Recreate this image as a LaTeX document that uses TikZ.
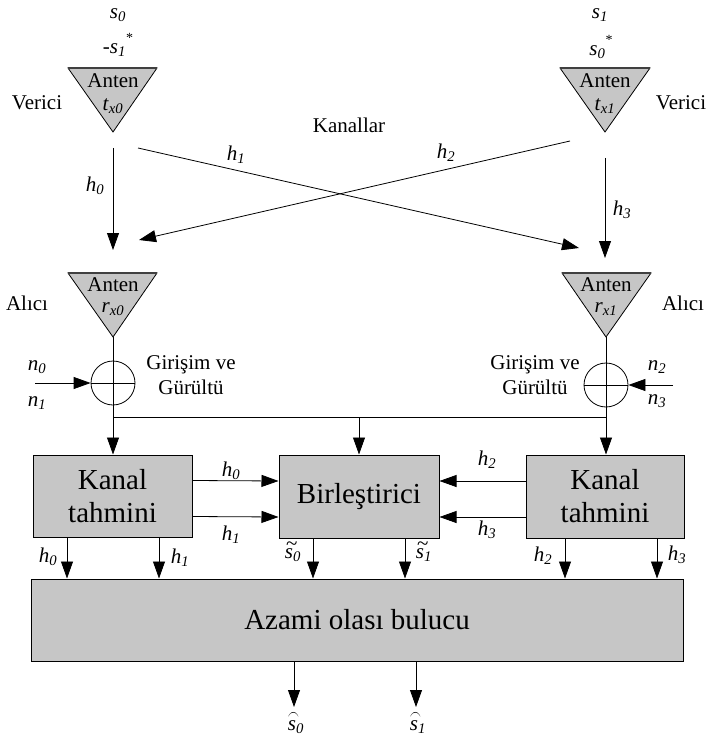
\documentclass[tikz,border=0pt]{standalone}
\usepackage{fontspec}
\setmainfont{Liberation Serif}
\usetikzlibrary{arrows.meta,calc}
\definecolor{boxgray}{RGB}{198,198,198}
% italic symbol with italic subscript
\newcommand{\vsub}[2]{\textit{#1}\textsubscript{\textit{#2}}}
% conjugate star
\newcommand{\cstar}{\raisebox{0.55em}{\fontsize{14}{14}\selectfont *}}
% s with a tilde
\newcommand{\stil}[1]{\textit{\makebox[0pt][l]{\raisebox{0.36em}[0pt][0pt]{\kern0.04em\textasciitilde}}s}\textsubscript{\textit{#1}}}
% s with an arc above
\newcommand{\sarc}[1]{\textit{\makebox[0pt][l]{\raisebox{0.5em}[0pt][0pt]{\scalebox{0.55}[0.9]{$\frown$}}}s}\textsubscript{\textit{#1}}}

\tikzset{
  arr/.style={-{Triangle[length=17pt,width=12pt]}, line width=0.8pt},
  wire/.style={line width=0.8pt},
  lab/.style={font=\fontsize{21}{25}\selectfont, inner sep=0pt},
  antfill/.style={fill=boxgray, draw=black, line width=0.8pt},
  blk/.style={draw, fill=boxgray, line width=1pt, align=center,
    font=\fontsize{29}{33}\selectfont, inner sep=0pt},
  summer/.style={circle, draw, line width=0.8pt, minimum size=44pt, inner sep=0pt},
}

\begin{document}
\begin{tikzpicture}[x=1pt,y=-1pt]
\useasboundingbox (0,0) rectangle (707,738);

% ---------- transmit antennas ----------
\filldraw[antfill] (68,68) -- (157,68) -- (113,132) -- cycle;
\filldraw[antfill] (560,68) -- (650,68) -- (605,132) -- cycle;
\draw[line width=1.4pt, black!75] (68,68) -- (157,68);
\draw[line width=1.4pt, black!75] (560,68) -- (650,68);
\node[lab] (tx0a) at (113,81) {Anten};
\node[lab] (tx0b) at (113,106) {\vsub{t}{x0}};
\node[lab] (tx1a) at (605,81) {Anten};
\node[lab] (tx1b) at (605,106) {\vsub{t}{x1}};

\node[lab] (s0top) at (118,15) {\vsub{s}{0}};
\node[lab] (s1conj) at (118,45) {-\vsub{s}{1}\cstar};
\node[lab] (s1top) at (600,15) {\vsub{s}{1}};
\node[lab] (s0conj) at (601,47) {\vsub{s}{0}\cstar};

\node[lab] (vl) at (37,103) {Verici};
\node[lab] (vr) at (681,103) {Verici};
\node[lab] (kanallar) at (349,125) {Kanallar};

% ---------- channel paths ----------
\coordinate (c0s) at (113,148);  \coordinate (c0e) at (113,250);
\coordinate (c1s) at (138,148);  \coordinate (c1e) at (579,248);
\coordinate (c2s) at (570,141);  \coordinate (c2e) at (139,240);
\coordinate (c3s) at (605,158);  \coordinate (c3e) at (605,258);
\draw[arr] (c0s) -- (c0e);
\draw[arr] (c1s) -- (c1e);
\draw[arr] (c2s) -- (c2e);
\draw[arr] (c3s) -- (c3e);
\node[lab] (h0) at (95,186) {\vsub{h}{0}};
\node[lab] (h1) at (236,155) {\vsub{h}{1}};
\node[lab] (h2) at (446,153) {\vsub{h}{2}};
\node[lab] (h3) at (622,210) {\vsub{h}{3}};

% ---------- receive antennas ----------
\filldraw[antfill] (68,273) -- (157,273) -- (113,337) -- cycle;
\filldraw[antfill] (562,273) -- (651,273) -- (606,337) -- cycle;
\draw[line width=1.4pt, black!75] (68,273) -- (157,273);
\draw[line width=1.4pt, black!75] (562,273) -- (651,273);
\coordinate (rx0) at (113,337);
\coordinate (rx1) at (606,337);
\node[lab] (rx0a) at (113,285) {Anten};
\node[lab] (rx0b) at (113,309) {\vsub{r}{x0}};
\node[lab] (rx1a) at (606,285) {Anten};
\node[lab] (rx1b) at (606,309) {\vsub{r}{x1}};
\node[lab] (al) at (27,303) {Alıcı};
\node[lab] (ar) at (683,303) {Alıcı};

% ---------- noise summers ----------
\node[summer] (sum0) at (113,383) {};
\node[summer] (sum1) at (606,385) {};
\draw[wire] (sum0.west) -- (sum0.east);
\draw[wire] (sum1.west) -- (sum1.east);
\coordinate (n0in) at (35,383);
\coordinate (n2in) at (673,385);
\draw[arr] (n0in) -- (sum0.west);
\draw[arr] (n2in) -- (sum1.east);
\node[lab] (n0) at (37,367) {\vsub{n}{0}};
\node[lab] (n1) at (37,403) {\vsub{n}{1}};
\node[lab] (n2) at (657,367) {\vsub{n}{2}};
\node[lab] (n3) at (657,401) {\vsub{n}{3}};
\node[lab, align=center] (gg0) at (191,375) {Girişim ve\\Gürültü};
\node[lab, align=center] (gg1) at (535,375) {Girişim ve\\Gürültü};

% ---------- processing blocks ----------
\node[blk, minimum width=159pt, minimum height=82pt] (kt0) at (112.5,496) {Kanal\\tahmini};
\node[blk, minimum width=160pt, minimum height=83pt] (bir) at (359,496.5) {Birleştirici};
\node[blk, minimum width=158pt, minimum height=83pt] (kt1) at (605,496.5) {Kanal\\tahmini};
\node[blk, minimum width=652pt, minimum height=82pt] (ml) at (357,620) {Azami olası bulucu};

% antenna feed through summers onto the bus
\coordinate (b0) at (113,417);
\coordinate (b1) at (606,417);
\coordinate (bm) at (359,417);
\draw[wire] (rx0) -- (b0);
\draw[wire] (rx1) -- (b1);
\draw[wire] (b0) -- (b1);
\draw[arr] (b0) -- (b0 |- kt0.north);
\draw[arr] (b1) -- (kt1.north -| b1);
\draw[arr] (bm) -- (bir.north);

% channel estimates into the combiner
\draw[arr] ([yshift=15.5pt]kt0.east) -- ([yshift=15.5pt]bir.west);
\draw[arr] ([yshift=-20.5pt]kt0.east) -- ([yshift=-20.5pt]bir.west);
\draw[arr] ([yshift=15.5pt]kt1.west) -- ([yshift=15.5pt]bir.east);
\draw[arr] ([yshift=-20.5pt]kt1.west) -- ([yshift=-20.5pt]bir.east);
\node[lab] (eh0) at (231,471) {\vsub{h}{0}};
\node[lab] (eh1) at (231,535) {\vsub{h}{1}};
\node[lab] (eh2) at (487,460) {\vsub{h}{2}};
\node[lab] (eh3) at (487,530) {\vsub{h}{3}};

% into the maximum likelihood detector
\foreach \x/\src in {67/kt0, 159/kt0, 313/bir, 405/bir, 565/kt1, 657/kt1}{
  \draw[arr] (\src.south -| \x,0) -- (ml.north -| \x,0);
}
\node[lab] (dh0) at (48,557) {\vsub{h}{0}};
\node[lab] (dh1) at (180,558) {\vsub{h}{1}};
\node[lab] (ds0) at (293,555) {\stil{0}};
\node[lab] (ds1) at (424,555) {\stil{1}};
\node[lab] (dh2) at (543,556) {\vsub{h}{2}};
\node[lab] (dh3) at (677,555) {\vsub{h}{3}};

% detector outputs
\coordinate (o0) at (294,707);
\coordinate (o1) at (416,707);
\draw[arr] (ml.south -| o0) -- (o0);
\draw[arr] (ml.south -| o1) -- (o1);
\node[lab] (os0) at (296,727) {\sarc{0}};
\node[lab] (os1) at (418,727) {\sarc{1}};
\end{tikzpicture}
\end{document}
